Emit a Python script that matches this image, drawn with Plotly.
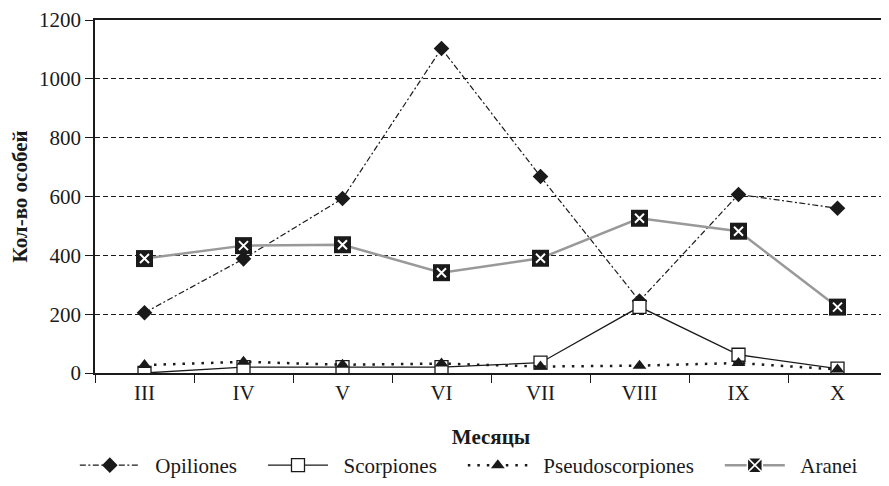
import plotly.graph_objects as go

months = ["III", "IV", "V", "VI", "VII", "VIII", "IX", "X"]
opiliones = [205, 388, 593, 1103, 668, 245, 607, 560]
scorpiones = [0, 20, 20, 20, 35, 225, 62, 15]
pseudoscorpiones = [27, 38, 28, 32, 22, 25, 34, 12]
aranei = [389, 433, 436, 341, 390, 526, 482, 224]
y_ticks = [0, 200, 400, 600, 800, 1000, 1200]

FONT = "Liberation Serif, Times New Roman, serif"
INK = "#1a1a1a"
FS = 21
LEAD = "\u00a0\u00a0"
TRAIL = "\u00a0\u00a0\u00a0\u00a0"

fig = go.Figure()
fig.add_trace(go.Scatter(
    x=months, y=opiliones, name=LEAD + "Opiliones" + TRAIL, mode="lines+markers",
    line=dict(color=INK, width=1.2, dash="6px,2.5px,2px,2.5px"),
    marker=dict(symbol="diamond", size=12, color=INK),
))
fig.add_trace(go.Scatter(
    x=months, y=scorpiones, name=LEAD + "Scorpiones" + TRAIL, mode="lines+markers",
    line=dict(color=INK, width=1.3),
    marker=dict(symbol="square", size=13, color="white",
                line=dict(color=INK, width=1.3)),
))
fig.add_trace(go.Scatter(
    x=months, y=pseudoscorpiones, name=LEAD + "Pseudoscorpiones" + TRAIL, mode="lines+markers",
    line=dict(color=INK, width=2.5, dash="2.5px,7px"),
    marker=dict(symbol="triangle-up", size=12, color=INK),
))
# Aranei: legend entry (grey line + black square with white cross)
fig.add_trace(go.Scatter(
    x=months, y=aranei, name=LEAD + "Aranei", mode="lines+markers",
    line=dict(color="#999999", width=2.5),
    marker=dict(symbol="square-x", size=15, color=INK,
                line=dict(color="white", width=1.5)),
))
# solid black squares and small white crosses on top
fig.add_trace(go.Scatter(
    x=months, y=aranei, mode="markers", showlegend=False, hoverinfo="skip",
    marker=dict(symbol="square", size=17, color=INK),
))
fig.add_trace(go.Scatter(
    x=months, y=aranei, mode="markers", showlegend=False, hoverinfo="skip",
    marker=dict(symbol="x-thin", size=9, color="white",
                line=dict(color="white", width=2)),
))

fig.update_layout(
    width=881, height=478,
    margin=dict(l=87, r=2, t=12, b=113, autoexpand=False),
    paper_bgcolor="white", plot_bgcolor="white",
    font=dict(family=FONT, size=FS, color=INK),
    showlegend=True,
    legend=dict(orientation="h", x=0.472, xanchor="center", y=-0.262, yanchor="middle",
                font=dict(family=FONT, size=FS, color=INK), itemwidth=60,
                traceorder="normal", bgcolor="rgba(0,0,0,0)"),
    xaxis=dict(
        type="category", categoryorder="array", categoryarray=months,
        showline=True, linecolor=INK, linewidth=1.5, mirror=True,
        ticks="outside", ticklen=8, tickcolor=INK, tickson="boundaries",
        showgrid=False, range=[-0.5, 7.5], automargin=False,
        title=dict(text="<b>Месяцы</b>", font=dict(family=FONT, size=FS, color=INK), standoff=25),
        tickfont=dict(family=FONT, size=FS, color=INK),
    ),
    yaxis=dict(
        range=[0, 1200], tickvals=y_ticks, automargin=False,
        showline=True, linecolor=INK, linewidth=1.5, mirror=True,
        ticks="outside", ticklen=8, tickcolor=INK,
        showgrid=True, gridcolor=INK, griddash="5px,3px", gridwidth=1,
        zeroline=False,
        title=dict(text="<b>Кол-во особей</b>", font=dict(family=FONT, size=FS, color=INK), standoff=12),
        tickfont=dict(family=FONT, size=FS, color=INK),
    ),
)

fig.write_html("out.html")
